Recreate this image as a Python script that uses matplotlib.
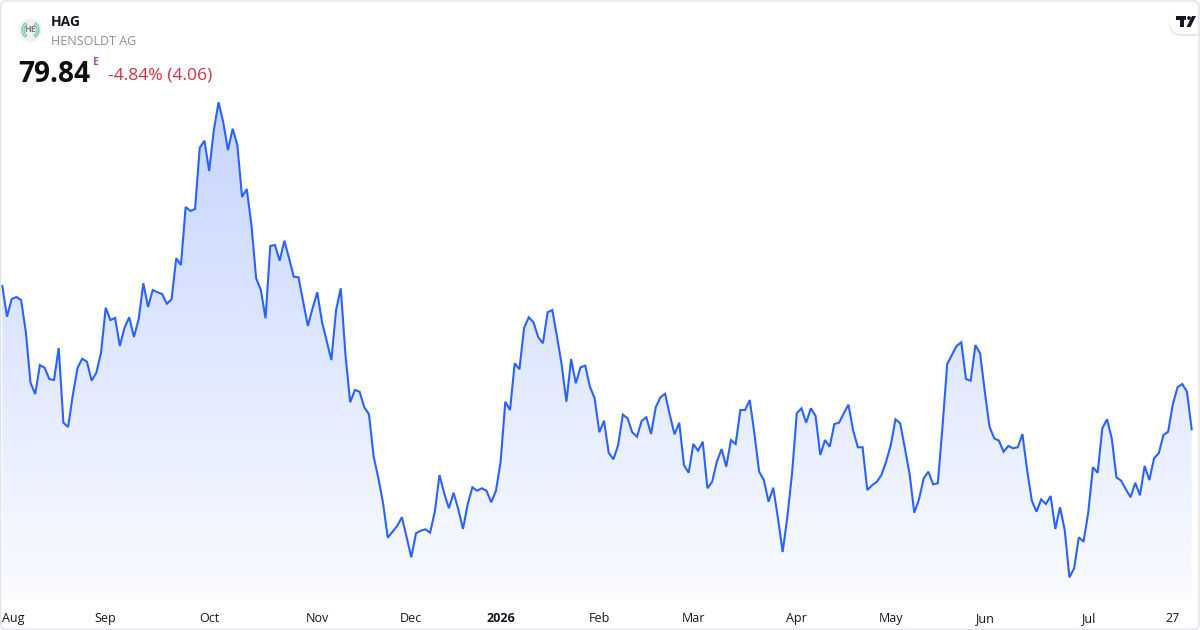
import numpy as np
import pandas as pd
import matplotlib
matplotlib.use("Agg")
import matplotlib.pyplot as plt
from matplotlib.patches import Polygon, FancyBboxPatch, Circle, Arc
import matplotlib.transforms as mtransforms

# ---------------- data ----------------
symbol = "HAG"
company = "HENSOLDT AG"
last_price = "79.84"
change_text = "-4.84% (4.06)"

start_date = "2025-07-31"
end_date = "2026-07-31"
exchange_holidays = ["2025-12-24", "2025-12-25", "2025-12-26", "2025-12-31",
                     "2026-01-01", "2026-04-03", "2026-04-06", "2026-05-01"]

close_prices = [
    95.32, 92.00, 93.91, 94.13, 93.80, 90.38, 84.87, 83.65, 86.78, 86.49,
    85.27, 85.16, 88.62, 80.55, 80.09, 83.54, 86.46, 87.46, 87.14, 85.09,
    85.95, 88.11, 92.97, 91.64, 91.86, 88.84, 90.81, 91.94, 89.81, 91.72,
    95.61, 93.05, 94.88, 94.64, 94.45, 93.40, 93.88, 98.31, 97.58, 103.85,
    103.42, 103.63, 110.25, 111.01, 107.74, 112.16, 115.16, 113.00, 110.00, 112.30,
    110.54, 104.93, 105.79, 101.90, 96.15, 94.88, 91.83, 99.64, 99.74, 98.05,
    100.21, 98.31, 96.32, 96.26, 93.62, 91.00, 92.91, 94.64, 91.46, 89.41,
    87.32, 92.72, 95.07, 87.86, 82.76, 84.08, 83.90, 82.22, 81.46, 76.88,
    74.55, 71.85, 68.13, 68.78, 69.40, 70.34, 68.21, 66.02, 68.61, 68.89,
    69.04, 68.67, 70.94, 74.90, 72.93, 71.31, 72.99, 71.20, 69.07, 71.77,
    73.58, 73.21, 73.47, 73.21, 71.96, 73.18, 76.34, 82.82, 81.92, 86.97,
    86.32, 90.81, 91.94, 91.40, 89.78, 89.13, 92.48, 92.72, 89.84, 86.78,
    82.82, 87.43, 84.81, 86.54, 86.71, 84.44, 83.19, 79.52, 80.77, 77.31,
    76.60, 78.14, 81.42, 81.03, 79.52, 79.04, 80.74, 81.14, 79.33, 82.22,
    83.30, 83.68, 81.38, 79.30, 80.55, 75.98, 75.15, 78.25, 77.53, 78.50,
    73.47, 74.18, 76.34, 77.71, 75.80, 78.68, 78.25, 81.92, 81.92, 83.00,
    79.33, 75.26, 74.36, 72.02, 73.53, 70.23, 66.59, 70.40, 75.09, 81.57,
    82.11, 80.55, 82.11, 81.28, 77.06, 78.68, 77.96, 80.41, 80.55, 81.57,
    82.50, 79.69, 77.90, 77.90, 73.28, 73.79, 74.15, 74.90, 76.34, 78.14,
    80.92, 80.49, 77.79, 75.01, 70.83, 72.28, 74.55, 75.26, 73.90, 74.01,
    80.12, 86.89, 87.86, 88.84, 89.24, 85.27, 85.09, 88.94, 88.03, 83.90,
    80.12, 78.87, 78.61, 77.42, 78.04, 77.79, 77.90, 79.33, 75.44, 72.13,
    70.94, 72.28, 71.77, 72.64, 69.07, 71.42, 68.96, 63.86, 64.83, 68.18,
    67.70, 70.83, 75.74, 75.15, 79.95, 80.92, 78.87, 74.66, 74.29, 73.36,
    72.50, 74.07, 72.71, 75.88, 74.36, 76.71, 77.25, 79.22, 79.58, 82.57,
    84.38, 84.73, 83.90, 79.84,
]

extra_tick_date = "2026-07-27"

# ---------------- build axis ----------------
dates = pd.bdate_range(start_date, end_date)
dates = dates[~dates.isin(pd.to_datetime(exchange_holidays))]
n = min(len(dates), len(close_prices))
dates = dates[:n]
vals = np.array(close_prices[:n])
idx = np.arange(n)

tick_pos, tick_lab, tick_bold = [], [], []
prev_month = dates[0].month
for i, d in enumerate(dates):
    if i > 0 and d.month != prev_month:
        tick_pos.append(i)
        if d.month == 1:
            tick_lab.append(str(d.year)); tick_bold.append(True)
        else:
            tick_lab.append(d.strftime("%b")); tick_bold.append(False)
    prev_month = d.month
ex = pd.Timestamp(extra_tick_date)
if ex in dates:
    tick_pos.append(int(np.where(dates == ex)[0][0]))
    tick_lab.append(str(ex.day)); tick_bold.append(False)

# ---------------- figure ----------------
W, H = 1200, 630
fig = plt.figure(figsize=(W / 100, H / 100), dpi=100)
fig.patch.set_facecolor("white")
FONT = ["Open Sans", "DejaVu Sans"]
plt.rcParams["font.family"] = FONT

def fx(x):
    return x / W

def fy(y):
    return 1 - y / H

ax = fig.add_axes([0, fy(600), 1, 600 / H])
ax.set_facecolor("none")
for s in ax.spines.values():
    s.set_visible(False)

px_per_bar = 4.701
x0 = 2.3
xmin = -x0 / px_per_bar
xmax = (W - x0) / px_per_bar
ppu = 0.108  # price per pixel
y_last_px = 429.3
ytop = vals[-1] + (y_last_px - 0) * ppu
ybot = vals[-1] + (y_last_px - 600) * ppu
ax.set_xlim(xmin, xmax)
ax.set_ylim(ybot, ytop)

line_color = "#2962FF"
# gradient fill
verts = [(idx[0], ybot)] + list(zip(idx, vals)) + [(idx[-1], ybot)]
poly = Polygon(verts, closed=True, facecolor="none", edgecolor="none")
ax.add_patch(poly)
g = np.linspace(0, 1, 256).reshape(-1, 1)
rgba = np.zeros((256, 1, 4))
rgba[..., 0] = 41 / 255
rgba[..., 1] = 98 / 255
rgba[..., 2] = 1.0
rgba[..., 3] = (0.025 + 0.245 * g)[:, 0:1]
im = ax.imshow(rgba, extent=[idx[0], idx[-1], ybot, vals.max()], origin="lower",
               aspect="auto", interpolation="bilinear", zorder=1)
im.set_clip_path(poly)
ax.plot(idx, vals, color=line_color, lw=1.5, zorder=3, solid_joinstyle="miter")
ax.set_xlim(xmin, xmax)
ax.set_ylim(ybot, ytop)

ax.set_yticks([])
ax.set_xticks(tick_pos)
ax.set_xticklabels(tick_lab)
ax.tick_params(axis="x", length=0, pad=8.5, labelsize=9, labelcolor="#131722")
for lab, b in zip(ax.get_xticklabels(), tick_bold):
    lab.set_fontfamily(FONT)
    if b:
        lab.set_fontweight("bold")
first = ax.get_xticklabels()[0]
first.set_horizontalalignment("left")
first.set_transform(first.get_transform() + mtransforms.ScaledTranslation(-5 / 100, 0, fig.dpi_scale_trans))

# ---------------- header ----------------
lx, ly = 30.5, H - 30
fig.patches.append(Circle((lx, ly), 11.7, transform=None, facecolor="#eef0f4", edgecolor="none"))
for r in (6.5, 8.5):
    fig.patches.append(Arc((lx, ly), 2 * r, 2 * r, theta1=-60, theta2=60, transform=None,
                           color="#5cc98a", lw=0.8))
    fig.patches.append(Arc((lx, ly), 2 * r, 2 * r, theta1=120, theta2=240, transform=None,
                           color="#5cc98a", lw=0.8))
fig.text(fx(30.5), fy(30), "HE", fontsize=6.5, fontweight="bold", color="#7d808a",
         ha="center", va="center", family=FONT)

fig.text(fx(51), fy(26), symbol, fontsize=10, fontweight="bold", color="#131722",
         ha="left", va="baseline", family=FONT)
fig.text(fx(51), fy(45), company, fontsize=9, color="#8a8d96",
         ha="left", va="baseline", family=FONT)
fig.text(fx(18.5), fy(81.5), last_price, fontsize=20.2, fontweight="bold", color="#0e0e10",
         ha="left", va="baseline", family=FONT)
fig.text(fx(93.5), fy(65), "E", fontsize=7.6, fontweight="bold", color="#a64dbb",
         ha="left", va="baseline", family=FONT)
fig.text(fx(107.5), fy(80), change_text, fontsize=12.6, color="#d0303f",
         ha="left", va="baseline", family=FONT)

# TradingView badge (top-right)
shadow = FancyBboxPatch((1170 - 0.5, H - 35 - 1), 40, 26, boxstyle="round,pad=0,rounding_size=12",
                        transform=None, facecolor="#e6e8ee", edgecolor="none", zorder=5)
badge = FancyBboxPatch((1170, H - 34), 40, 25, boxstyle="round,pad=0,rounding_size=12",
                       transform=None, facecolor="white", edgecolor="none", zorder=6)
fig.patches.extend([shadow, badge])
T = [(1176, H - 16), (1186, H - 16), (1186, H - 19.5), (1183.5, H - 19.5), (1183.5, H - 27),
     (1180, H - 27), (1180, H - 19.5), (1176, H - 19.5)]
fig.patches.append(Polygon(T, closed=True, transform=None, facecolor="#131722", edgecolor="none", zorder=7))
fig.patches.append(Circle((1189, H - 18), 1.9, transform=None, facecolor="#131722", edgecolor="none", zorder=7))
S = [(1192, H - 16), (1196, H - 16), (1190.5, H - 27), (1186.5, H - 27)]
fig.patches.append(Polygon(S, closed=True, transform=None, facecolor="#131722", edgecolor="none", zorder=7))

# outer frame
frame = FancyBboxPatch((0.5, 0.5), W - 1.5, H - 1.5, boxstyle="round,pad=0,rounding_size=6",
                       transform=None, facecolor="none", edgecolor="#e0e3eb", lw=1, zorder=10)
fig.patches.append(frame)

fig.savefig("out.png", dpi=100, facecolor="white")
